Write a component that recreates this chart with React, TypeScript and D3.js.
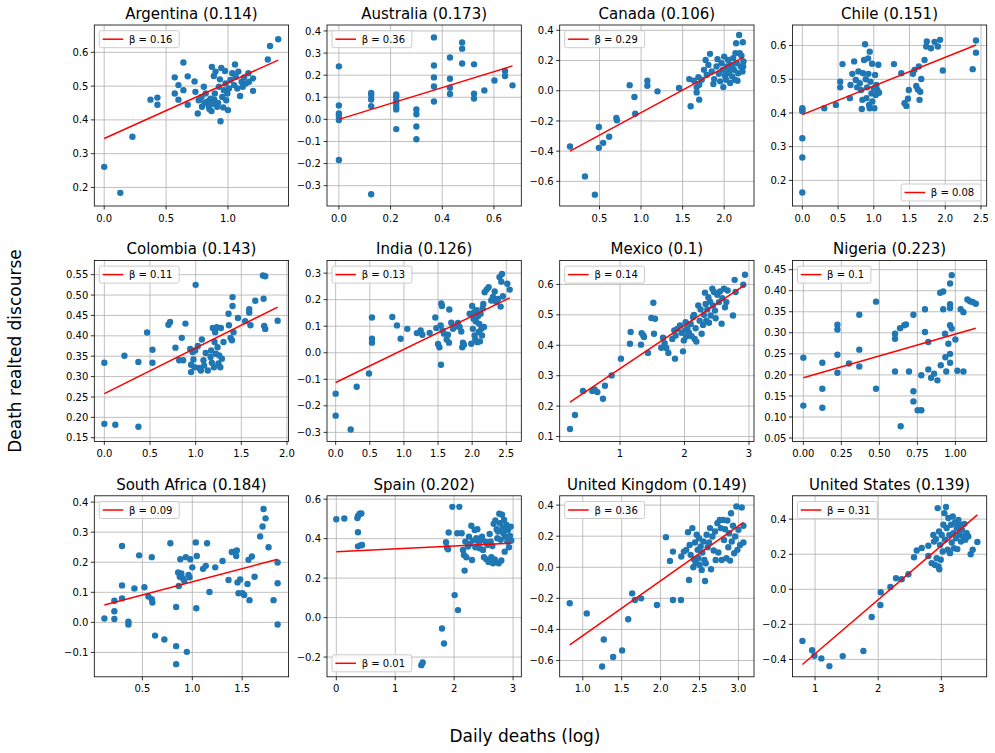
import * as d3 from 'd3';

// subplot titles and regression labels
const countries = [
  'Argentina', 'Australia', 'Canada', 'Chile',
  'Colombia', 'India', 'Mexico', 'Nigeria',
  'South Africa', 'Spain', 'United Kingdom', 'United States',
];
const titleScores = ['0.114', '0.173', '0.106', '0.151', '0.143', '0.126', '0.1', '0.223', '0.184', '0.202', '0.149', '0.139'];
const betaLabels = ['0.16', '0.36', '0.29', '0.08', '0.11', '0.13', '0.14', '0.1', '0.09', '0.01', '0.36', '0.31'];
const legendCorners = ['ul', 'ul', 'ul', 'lr', 'ul', 'ul', 'ul', 'ul', 'ul', 'll', 'ul', 'ul'];

// fitted line y = a + b*x
const fitIntercepts = [0.345, 0.0, -0.443, 0.395, 0.258, -0.112, 0.181, 0.193, 0.0476, 0.334, -0.795, -0.675];
const fitSlopes = [0.165, 0.36, 0.298, 0.085, 0.112, 0.125, 0.142, 0.104, 0.0875, 0.0145, 0.354, 0.308];

// axis limits
const xLimits: [number, number][] = [
  [-0.08, 1.49], [-0.046, 0.706], [0.021, 2.359], [-0.139, 2.58],
  [-0.11, 2.018], [-0.127, 2.72], [0.065, 3.078], [-0.072, 1.206],
  [0.018, 1.965], [-0.158, 3.14], [0.704, 3.2], [0.641, 3.718],
];
const yLimits: [number, number][] = [
  [0.145, 0.681], [-0.392, 0.427], [-0.763, 0.435], [0.124, 0.661],
  [0.141, 0.585], [-0.334, 0.348], [0.084, 0.679], [0.042, 0.472],
  [-0.181, 0.421], [-0.3, 0.617], [-0.705, 0.46], [-0.499, 0.533],
];

// ticks
const xTicks = [
  [0, 0.5, 1.0], [0, 0.2, 0.4, 0.6], [0.5, 1.0, 1.5, 2.0], [0, 0.5, 1.0, 1.5, 2.0, 2.5],
  [0, 0.5, 1.0, 1.5, 2.0], [0, 0.5, 1.0, 1.5, 2.0, 2.5], [1, 2, 3], [0, 0.25, 0.5, 0.75, 1.0],
  [0.5, 1.0, 1.5], [0, 1, 2, 3], [1.0, 1.5, 2.0, 2.5, 3.0], [1, 2, 3],
];
const yTicks = [
  [0.2, 0.3, 0.4, 0.5, 0.6], [-0.3, -0.2, -0.1, 0, 0.1, 0.2, 0.3, 0.4], [-0.6, -0.4, -0.2, 0, 0.2, 0.4], [0.2, 0.3, 0.4, 0.5, 0.6],
  [0.15, 0.2, 0.25, 0.3, 0.35, 0.4, 0.45, 0.5, 0.55], [-0.3, -0.2, -0.1, 0, 0.1, 0.2, 0.3], [0.1, 0.2, 0.3, 0.4, 0.5, 0.6], [0.05, 0.1, 0.15, 0.2, 0.25, 0.3, 0.35, 0.4, 0.45],
  [-0.1, 0, 0.1, 0.2, 0.3, 0.4], [-0.2, 0, 0.2, 0.4, 0.6], [-0.6, -0.4, -0.2, 0, 0.2, 0.4], [-0.4, -0.2, 0, 0.2, 0.4],
];
const xFormats = ['.1f', '.1f', '.1f', '.1f', '.1f', '.1f', 'd', '.2f', '.1f', 'd', '.1f', 'd'];
const yFormats = ['.1f', '.1f', '.1f', '.1f', '.2f', '.1f', '.1f', '.2f', '.1f', '.1f', '.1f', '.1f'];

// scatter points [daily deaths (log), discourse]
const argentina = [
  [0, 0.261], [0.13, 0.184], [0.228, 0.35], [0.374, 0.46], [0.43, 0.466], [0.43, 0.445], [0.57, 0.526], [0.57, 0.478],
  [0.64, 0.57], [0.6, 0.503], [0.6, 0.46], [0.64, 0.488], [0.675, 0.529], [0.675, 0.445], [0.73, 0.514], [0.737, 0.483],
  [0.756, 0.419], [0.764, 0.458], [0.786, 0.468], [0.79, 0.439], [0.805, 0.498], [0.82, 0.478], [0.83, 0.453], [0.846, 0.44],
  [0.86, 0.463], [0.867, 0.426], [0.87, 0.557], [0.878, 0.448], [0.886, 0.53], [0.894, 0.478], [0.9, 0.543], [0.913, 0.439],
  [0.927, 0.498], [0.935, 0.52], [0.946, 0.554], [0.94, 0.396], [0.954, 0.468], [0.962, 0.437], [0.967, 0.488], [0.976, 0.545],
  [0.98, 0.508], [0.986, 0.458], [1.0, 0.429], [0.995, 0.478], [1.008, 0.493], [1.02, 0.518], [1.035, 0.538], [1.05, 0.503],
  [1.057, 0.564], [1.062, 0.528], [1.076, 0.493], [1.084, 0.543], [1.098, 0.471], [1.11, 0.513], [1.12, 0.498], [1.13, 0.526],
  [1.144, 0.508], [1.165, 0.538], [1.17, 0.513], [1.203, 0.523], [1.203, 0.486], [1.322, 0.579], [1.34, 0.619], [1.406, 0.639],
  [0.81, 0.45], [0.84, 0.455], [0.85, 0.432], [0.89, 0.46], [0.92, 0.45],
];
const australia = [
  [0, 0.24], [0, 0.063], [0, 0.027], [0, 0.015], [0, -0.003], [0, -0.184],
  [0.125, 0.12], [0.125, 0.11], [0.125, 0.09], [0.125, 0.06], [0.125, -0.339],
  [0.222, 0.113], [0.222, 0.103], [0.222, 0.087], [0.222, 0.072], [0.222, 0.057], [0.222, 0.045], [0.222, -0.044],
  [0.3, 0.045], [0.3, 0.023], [0.3, -0.032], [0.3, -0.09],
  [0.368, 0.371], [0.368, 0.244], [0.368, 0.19], [0.368, 0.149], [0.368, 0.081],
  [0.43, 0.28], [0.43, 0.184], [0.43, 0.143], [0.43, 0.115],
  [0.477, 0.348], [0.477, 0.32], [0.477, 0.253],
  [0.523, 0.249], [0.523, 0.116], [0.523, 0.094],
  [0.563, 0.131], [0.602, 0.176], [0.643, 0.219], [0.643, 0.196], [0.672, 0.154],
];
const canada = [
  [0.145, -0.369], [0.325, -0.567], [0.444, -0.688], [0.492, -0.24], [0.492, -0.378], [0.544, -0.345], [0.616, -0.305],
  [0.703, -0.18], [0.71, -0.196], [0.863, 0.037], [0.92, -0.042], [0.93, -0.152], [1.076, 0.066], [1.076, 0.033],
  [1.198, -0.004], [1.457, 0.018], [1.58, 0.077], [1.597, -0.103], [1.637, 0.066], [1.669, 0.024], [1.669, -0.011],
  [1.69, 0.09], [1.7, -0.059], [1.7, 0.04], [1.73, 0.073], [1.757, 0.138], [1.777, 0.204], [1.79, 0.105], [1.81, 0.171],
  [1.83, 0.244], [1.85, 0.127], [1.87, 0.044], [1.88, 0.077], [1.908, 0.16], [1.92, 0.209], [1.936, 0.112], [1.952, 0.062],
  [1.968, 0.182], [1.984, 0.138], [1.99, 0.024], [2.0, 0.226], [2.008, 0.099], [2.024, 0.073], [2.032, 0.16], [2.048, 0.204],
  [2.06, 0.127], [2.072, 0.051], [2.08, 0.171], [2.096, 0.095], [2.108, 0.215], [2.12, 0.138], [2.128, 0.073], [2.136, 0.248],
  [2.144, 0.314], [2.152, 0.182], [2.16, 0.066], [2.168, 0.116], [2.18, 0.369], [2.188, 0.248], [2.2, 0.16], [2.208, 0.231],
  [2.224, 0.321], [2.232, 0.193], [2.228, 0.16], [2.22, 0.127], [2.04, 0.115], [2.1, 0.15],
];
const chile = [
  [0, 0.414], [0, 0.409], [0, 0.405], [0, 0.325], [0, 0.268], [0, 0.164], [0.307, 0.414], [0.47, 0.424],
  [0.53, 0.493], [0.53, 0.476], [0.562, 0.545], [0.665, 0.444], [0.674, 0.483], [0.7, 0.516], [0.725, 0.553], [0.748, 0.498],
  [0.767, 0.476], [0.785, 0.523], [0.804, 0.488], [0.822, 0.468], [0.832, 0.412], [0.841, 0.439], [0.85, 0.518], [0.864, 0.557],
  [0.878, 0.604], [0.888, 0.5], [0.897, 0.444], [0.906, 0.476], [0.92, 0.562], [0.925, 0.516], [0.934, 0.424], [0.943, 0.582],
  [0.943, 0.414], [0.953, 0.493], [0.967, 0.458], [0.976, 0.546], [0.98, 0.434], [1.0, 0.473], [1.008, 0.414], [1.018, 0.513],
  [1.027, 0.453], [1.036, 0.483], [1.05, 0.468], [1.064, 0.543], [1.073, 0.46], [1.282, 0.545], [1.385, 0.518], [1.43, 0.429],
  [1.455, 0.421], [1.478, 0.442], [1.49, 0.468], [1.547, 0.516], [1.57, 0.528], [1.594, 0.48], [1.617, 0.47], [1.63, 0.538],
  [1.64, 0.439], [1.65, 0.463], [1.664, 0.501], [1.71, 0.557], [1.733, 0.597], [1.742, 0.612], [1.8, 0.592], [1.85, 0.611],
  [1.896, 0.597], [1.928, 0.617], [1.966, 0.526], [2.384, 0.53], [2.43, 0.615], [2.43, 0.579],
];
const colombia = [
  [0, 0.334], [0, 0.184], [0.12, 0.182], [0.22, 0.351], [0.373, 0.336], [0.373, 0.177], [0.468, 0.408], [0.527, 0.366],
  [0.527, 0.334], [0.702, 0.427], [0.72, 0.434], [0.779, 0.371], [0.82, 0.34], [0.848, 0.395], [0.863, 0.34], [0.888, 0.43],
  [0.94, 0.368], [0.95, 0.329], [0.95, 0.311], [0.965, 0.36], [0.976, 0.342], [0.987, 0.323], [1.0, 0.525], [0.995, 0.364],
  [1.024, 0.375], [1.038, 0.321], [1.057, 0.315], [1.068, 0.391], [1.086, 0.34], [1.093, 0.327], [1.11, 0.358], [1.133, 0.315],
  [1.163, 0.348], [1.17, 0.364], [1.177, 0.334], [1.188, 0.419], [1.2, 0.323], [1.207, 0.385], [1.214, 0.409], [1.221, 0.356],
  [1.232, 0.421], [1.24, 0.372], [1.25, 0.332], [1.258, 0.352], [1.27, 0.323], [1.276, 0.419], [1.287, 0.344], [1.305, 0.385],
  [1.36, 0.454], [1.364, 0.426], [1.382, 0.395], [1.397, 0.389], [1.404, 0.495], [1.404, 0.473], [1.415, 0.409], [1.463, 0.444],
  [1.543, 0.436], [1.587, 0.465], [1.587, 0.457], [1.6, 0.426], [1.653, 0.486], [1.737, 0.548], [1.762, 0.546], [1.744, 0.491],
  [1.751, 0.424], [1.762, 0.417], [1.898, 0.437],
];
const india = [
  [0, -0.154], [0, -0.237], [0.22, -0.289], [0.308, -0.128], [0.488, -0.078], [0.532, 0.133], [0.532, 0.053], [0.532, 0.038],
  [0.83, 0.135], [0.898, 0.103], [0.952, 0.053], [1.05, 0.09], [1.19, 0.074], [1.245, 0.084], [1.27, 0.068], [1.377, 0.075],
  [1.46, 0.133], [1.475, 0.093], [1.5, 0.033], [1.52, 0.021], [1.538, 0.103], [1.543, -0.045], [1.548, 0.186], [1.557, 0.176],
  [1.567, 0.084], [1.587, 0.072], [1.626, 0.05], [1.645, 0.068], [1.66, 0.038], [1.665, 0.163], [1.694, 0.113], [1.719, 0.09],
  [1.768, 0.1], [1.792, 0.112], [1.816, 0.097], [1.84, 0.08], [1.855, 0.021], [1.865, 0.038], [1.88, 0.03], [1.963, 0.147],
  [1.987, 0.034], [2.0, 0.176], [2.01, 0.09], [2.02, 0.128], [2.03, 0.153], [2.036, 0.065], [2.046, 0.05], [2.056, 0.118],
  [2.065, 0.16], [2.075, 0.04], [2.085, 0.138], [2.095, 0.078], [2.104, 0.109], [2.114, 0.043], [2.124, 0.147], [2.134, 0.09],
  [2.144, 0.065], [2.153, 0.168], [2.163, 0.184], [2.173, 0.097], [2.183, 0.228], [2.212, 0.238], [2.241, 0.247], [2.28, 0.197],
  [2.305, 0.21], [2.33, 0.231], [2.353, 0.191], [2.378, 0.203], [2.4, 0.285], [2.417, 0.174], [2.427, 0.268], [2.437, 0.297],
  [2.45, 0.213], [2.515, 0.26], [2.55, 0.238],
];
const mexico = [
  [0.225, 0.125], [0.302, 0.171], [0.426, 0.25], [0.571, 0.25], [0.607, 0.255], [0.649, 0.246], [0.736, 0.224], [0.767, 0.267],
  [0.87, 0.301], [1.015, 0.356], [1.165, 0.444], [1.155, 0.405], [1.326, 0.402], [1.336, 0.44], [1.362, 0.432], [1.372, 0.427],
  [1.434, 0.375], [1.486, 0.49], [1.517, 0.54], [1.527, 0.438], [1.543, 0.487], [1.64, 0.392], [1.667, 0.425], [1.692, 0.407],
  [1.718, 0.391], [1.75, 0.375], [1.811, 0.421], [1.842, 0.449], [1.853, 0.356], [1.863, 0.432], [1.889, 0.454], [1.93, 0.465],
  [1.956, 0.441], [1.977, 0.38], [1.99, 0.416], [2.008, 0.449], [2.018, 0.476], [2.028, 0.429], [2.044, 0.456], [2.07, 0.441],
  [2.096, 0.47], [2.111, 0.43], [2.132, 0.493], [2.147, 0.5], [2.158, 0.421], [2.173, 0.456], [2.184, 0.412], [2.214, 0.531],
  [2.235, 0.481], [2.25, 0.518], [2.266, 0.438], [2.287, 0.467], [2.302, 0.5], [2.318, 0.573], [2.328, 0.536], [2.338, 0.481],
  [2.354, 0.518], [2.37, 0.558], [2.38, 0.474], [2.395, 0.544], [2.406, 0.498], [2.432, 0.586], [2.442, 0.531], [2.457, 0.575],
  [2.473, 0.514], [2.483, 0.489], [2.509, 0.566], [2.535, 0.542], [2.55, 0.577], [2.576, 0.471], [2.587, 0.555], [2.612, 0.586],
  [2.628, 0.525], [2.649, 0.542], [2.669, 0.58], [2.752, 0.498], [2.778, 0.615], [2.793, 0.575], [2.912, 0.599], [2.938, 0.632],
];
const nigeria = [
  [0, 0.241], [0, 0.127], [0.125, 0.229], [0.125, 0.167], [0.125, 0.122], [0.224, 0.319], [0.224, 0.308], [0.224, 0.248],
  [0.224, 0.205], [0.3, 0.227], [0.368, 0.343], [0.368, 0.26], [0.368, 0.22], [0.478, 0.374], [0.478, 0.167], [0.603, 0.298],
  [0.603, 0.286], [0.603, 0.208], [0.636, 0.311], [0.64, 0.078], [0.664, 0.318], [0.675, 0.32], [0.695, 0.208], [0.724, 0.343],
  [0.724, 0.161], [0.724, 0.137], [0.752, 0.116], [0.776, 0.116], [0.776, 0.199], [0.8, 0.356], [0.8, 0.302], [0.822, 0.278],
  [0.822, 0.213], [0.84, 0.193], [0.86, 0.203], [0.882, 0.187], [0.9, 0.395], [0.904, 0.223], [0.92, 0.398], [0.92, 0.356],
  [0.932, 0.298], [0.934, 0.242], [0.94, 0.208], [0.954, 0.274], [0.965, 0.417], [0.965, 0.368], [0.965, 0.359], [0.965, 0.318],
  [0.965, 0.25], [0.965, 0.229], [0.976, 0.437], [0.976, 0.31], [1.0, 0.284], [1.013, 0.21], [1.035, 0.356], [1.053, 0.349],
  [1.053, 0.208], [1.079, 0.379], [1.096, 0.375], [1.114, 0.373], [1.134, 0.369],
];
const southAfrica = [
  [0.119, 0.013], [0.219, 0.072], [0.219, 0.037], [0.219, 0.011], [0.296, 0.254], [0.296, 0.123], [0.296, 0.08], [0.36, 0.002],
  [0.36, -0.007], [0.42, 0.113], [0.467, 0.223], [0.52, 0.117], [0.56, 0.086], [0.594, 0.217], [0.594, 0.077], [0.6, 0.066],
  [0.627, -0.044], [0.72, -0.057], [0.78, 0.263], [0.838, 0.051], [0.838, -0.079], [0.838, -0.139], [0.858, 0.166], [0.865, 0.121],
  [0.875, 0.152], [0.88, 0.21], [0.89, 0.163], [0.905, 0.147], [0.92, 0.138], [0.935, 0.217], [0.945, -0.098], [0.962, 0.158],
  [0.972, 0.15], [0.98, 0.21], [1.0, 0.183], [1.035, 0.266], [1.04, 0.047], [1.045, 0.221], [1.108, 0.178], [1.135, 0.188],
  [1.148, 0.263], [1.172, 0.101], [1.23, 0.183], [1.303, 0.204], [1.363, 0.141], [1.396, 0.234], [1.43, 0.236], [1.44, 0.221],
  [1.446, 0.239], [1.453, 0.133], [1.463, 0.097], [1.48, 0.143], [1.503, 0.097], [1.52, 0.091], [1.553, 0.128], [1.563, 0.208],
  [1.573, 0.074], [1.597, 0.219], [1.624, 0.152], [1.68, 0.286], [1.704, 0.319], [1.714, 0.377], [1.734, 0.346], [1.764, 0.25],
  [1.814, 0.074], [1.855, 0.199], [1.855, 0.13], [1.855, -0.007],
];
const spain = [
  [0, 0.498], [0.136, 0.502], [0.357, 0.504], [0.368, 0.515], [0.396, 0.526], [0.424, 0.527], [0.368, 0.432], [0.368, 0.361],
  [0.413, 0.366], [0.436, 0.368], [1.443, -0.241], [1.466, -0.227], [1.794, -0.055], [1.828, -0.131], [1.862, 0.382], [1.879, 0.355],
  [1.896, 0.346], [1.907, 0.431], [1.969, 0.561], [2.009, 0.114], [2.054, 0.427], [2.066, 0.038], [2.088, 0.561], [2.128, 0.427],
  [2.15, 0.343], [2.167, 0.317], [2.178, 0.238], [2.19, 0.385], [2.207, 0.306], [2.235, 0.36], [2.252, 0.41], [2.264, 0.373],
  [2.292, 0.465], [2.303, 0.292], [2.32, 0.39], [2.349, 0.444], [2.36, 0.356], [2.377, 0.402], [2.394, 0.448], [2.417, 0.377],
  [2.433, 0.351], [2.45, 0.394], [2.473, 0.41], [2.49, 0.343], [2.507, 0.306], [2.53, 0.385], [2.547, 0.295], [2.564, 0.368],
  [2.586, 0.282], [2.603, 0.424], [2.62, 0.385], [2.632, 0.306], [2.648, 0.363], [2.66, 0.275], [2.671, 0.475], [2.688, 0.295],
  [2.7, 0.492], [2.722, 0.448], [2.733, 0.402], [2.745, 0.436], [2.756, 0.275], [2.767, 0.526], [2.779, 0.478], [2.79, 0.394],
  [2.801, 0.289], [2.813, 0.521], [2.824, 0.453], [2.835, 0.427], [2.847, 0.495], [2.858, 0.334], [2.869, 0.41], [2.886, 0.47],
  [2.903, 0.385], [2.915, 0.444], [2.931, 0.356], [2.948, 0.414], [2.96, 0.461], [2.97, 0.39],
];
const unitedKingdom = [
  [0.833, -0.232], [1.052, -0.297], [1.27, -0.465], [1.249, -0.639], [1.39, -0.578], [1.506, -0.535], [1.584, -0.335], [1.635, -0.168],
  [1.67, -0.211], [1.75, -0.2], [1.953, -0.243], [2.069, 0.194], [2.12, 0.041], [2.159, 0.101], [2.159, -0.211], [2.262, -0.211],
  [2.266, 0.069], [2.3, 0.101], [2.33, 0.112], [2.352, 0.226], [2.365, -0.082], [2.373, 0.144], [2.386, 0.08], [2.408, 0.252],
  [2.42, 0], [2.43, 0.052], [2.442, 0.159], [2.45, 0.026], [2.464, 0.209], [2.476, 0.112], [2.485, 0.058], [2.494, 0.187],
  [2.502, 0.015], [2.515, 0.133], [2.528, -0.017], [2.536, 0.095], [2.55, 0.166], [2.562, 0.047], [2.571, -0.088], [2.58, 0.026],
  [2.592, 0.209], [2.605, 0.129], [2.622, 0.159], [2.635, 0.252], [2.648, -0.013], [2.665, 0.198], [2.682, 0.108], [2.7, 0.23],
  [2.708, 0.047], [2.73, 0.284], [2.742, 0.095], [2.76, 0.305], [2.773, 0.252], [2.785, 0.047], [2.803, 0.305], [2.815, 0.176],
  [2.828, 0.245], [2.845, 0.058], [2.858, 0.301], [2.87, 0.129], [2.88, 0.219], [2.893, 0.043], [2.905, 0.348], [2.914, 0.166],
  [2.93, 0.267], [2.945, 0.09], [2.957, 0.198], [2.974, 0.391], [2.987, 0.112], [3.0, 0.241], [3.021, 0.144], [3.043, 0.385],
  [3.064, 0.267], [3.064, 0.159],
];
const unitedStates = [
  [0.8, -0.295], [0.953, -0.347], [0.99, -0.379], [1.1, -0.394], [1.227, -0.438], [1.438, -0.381], [1.765, -0.352], [1.897, -0.158],
  [2.034, -0.09], [2.04, -0.017], [2.193, 0.013], [2.282, 0.063], [2.372, 0.057], [2.478, 0.086], [2.567, 0.183], [2.61, 0.221],
  [2.689, 0.236], [2.794, 0.248], [2.794, 0.19], [2.847, 0.149], [2.873, 0.31], [2.884, 0.272], [2.9, 0.139], [2.916, 0.286],
  [2.926, 0.177], [2.942, 0.463], [2.952, 0.13], [2.963, 0.33], [2.968, 0.114], [2.979, 0.253], [2.99, 0.168], [3.005, 0.31],
  [3.021, 0.215], [3.032, 0.368], [3.048, 0.434], [3.058, 0.282], [3.074, 0.469], [3.084, 0.349], [3.1, 0.225], [3.111, 0.406],
  [3.127, 0.31], [3.137, 0.206], [3.153, 0.368], [3.164, 0.267], [3.18, 0.415], [3.19, 0.32], [3.2, 0.234], [3.216, 0.381],
  [3.232, 0.291], [3.243, 0.349], [3.253, 0.229], [3.27, 0.396], [3.285, 0.31], [3.295, 0.368], [3.311, 0.272], [3.327, 0.339],
  [3.348, 0.301], [3.364, 0.373], [3.38, 0.282], [3.401, 0.32], [3.427, 0.301], [3.464, 0.2], [3.496, 0.225], [3.57, 0.27],
];

const pointSets = [argentina, australia, canada, chile, colombia, india, mexico, nigeria, southAfrica, spain, unitedKingdom, unitedStates];

const WIDTH = 995;
const HEIGHT = 753;
const FONT = 'DejaVu Sans, sans-serif';
const BLUE = '#1f77b4';

const grid = { left: 94.3, colStep: 232.7, w: 194.3, top: 25, rowStep: 235.4, h: 181 };

// rough DejaVu Sans advance widths at 10px for the legend text
const charW: Record<string, number> = { ' ': 3.18, '.': 3.18, '=': 8.38, 'β': 6.37 };
const textWidth = (s: string) => s.split('').reduce((acc, c) => acc + (charW[c] ?? 6.36), 0);

function Panel({ i }: { i: number }) {
  const col = i % 4;
  const row = Math.floor(i / 4);
  const x0 = grid.left + col * grid.colStep;
  const y0 = grid.top + row * grid.rowStep;
  const { w, h } = grid;

  const x = d3.scaleLinear().domain(xLimits[i]).range([0, w]);
  const y = d3.scaleLinear().domain(yLimits[i]).range([h, 0]);
  const fx = d3.format(xFormats[i]);
  const fy = d3.format(yFormats[i]);

  const pts = pointSets[i];
  const [xmin, xmax] = d3.extent(pts, (p) => p[0]) as [number, number];
  const fit = (v: number) => fitIntercepts[i] + fitSlopes[i] * v;
  const fitLine = d3.line<number>().x((v) => x(v)).y((v) => y(fit(v)))([xmin, xmax]);

  const label = `β = ${betaLabels[i]}`;
  const lw = 36.5 + textWidth(label);
  const lh = 17;
  const corner = legendCorners[i];
  const lx = corner === 'lr' ? w - 5.7 - lw : 5;
  const ly = corner === 'ul' ? 5.7 : h - 5 - lh;

  return (
    <g transform={`translate(${x0},${y0})`}>
      {xTicks[i].map((t) => (
        <line key={`gx${t}`} x1={x(t)} x2={x(t)} y1={0} y2={h} stroke="#b0b0b0" strokeWidth={0.8} />
      ))}
      {yTicks[i].map((t) => (
        <line key={`gy${t}`} x1={0} x2={w} y1={y(t)} y2={y(t)} stroke="#b0b0b0" strokeWidth={0.8} />
      ))}
      <g clipPath={`url(#clip${i})`}>
        {pts.map((p, k) => (
          <circle key={k} cx={x(p[0])} cy={y(p[1])} r={3.2} fill={BLUE} />
        ))}
        <path d={fitLine ?? ''} stroke="red" strokeWidth={1.5} fill="none" />
      </g>
      <rect x={0} y={0} width={w} height={h} fill="none" stroke="#000" strokeWidth={0.8} />
      {xTicks[i].map((t) => (
        <g key={`tx${t}`} transform={`translate(${x(t)},${h})`}>
          <line y2={3.5} stroke="#000" strokeWidth={0.8} />
          <text y={15.7} textAnchor="middle" fontSize={10} fontFamily={FONT} fill="#000">{fx(t)}</text>
        </g>
      ))}
      {yTicks[i].map((t) => (
        <g key={`ty${t}`} transform={`translate(0,${y(t)})`}>
          <line x2={-3.5} stroke="#000" strokeWidth={0.8} />
          <text x={-6} dy="0.36em" textAnchor="end" fontSize={10} fontFamily={FONT} fill="#000">{fy(t)}</text>
        </g>
      ))}
      <text x={w / 2} y={-6} textAnchor="middle" fontSize={15} fontFamily={FONT} fill="#000">
        {`${countries[i]} (${titleScores[i]})`}
      </text>
      <g transform={`translate(${lx},${ly})`}>
        <rect width={lw} height={lh} rx={2} fill="#fff" fillOpacity={0.8} stroke="#cccccc" strokeWidth={1} />
        <line x1={3.4} x2={24} y1={lh / 2} y2={lh / 2} stroke="red" strokeWidth={1.5} />
        <text x={29.7} y={lh / 2} dy="0.36em" fontSize={10} fontFamily={FONT} fill="#000">{label}</text>
      </g>
    </g>
  );
}

export default function App() {
  const idx = d3.range(countries.length);
  return (
    <svg
      width={WIDTH}
      height={HEIGHT}
      viewBox={`0 0 ${WIDTH} ${HEIGHT}`}
      style={{ position: 'absolute', left: 0, top: 0, display: 'block', background: '#fff' }}
    >
      <defs>
        {idx.map((i) => (
          <clipPath key={i} id={`clip${i}`}>
            <rect x={0} y={0} width={grid.w} height={grid.h} />
          </clipPath>
        ))}
      </defs>
      <rect width={WIDTH} height={HEIGHT} fill="#fff" />
      {idx.map((i) => (
        <Panel key={i} i={i} />
      ))}
      <text
        transform="translate(21,351) rotate(-90)"
        textAnchor="middle"
        fontSize={17}
        fontFamily={FONT}
        fill="#000"
      >
        Death realted discourse
      </text>
      <text x={525} y={742} textAnchor="middle" fontSize={17} fontFamily={FONT} fill="#000">
        Daily deaths (log)
      </text>
    </svg>
  );
}
